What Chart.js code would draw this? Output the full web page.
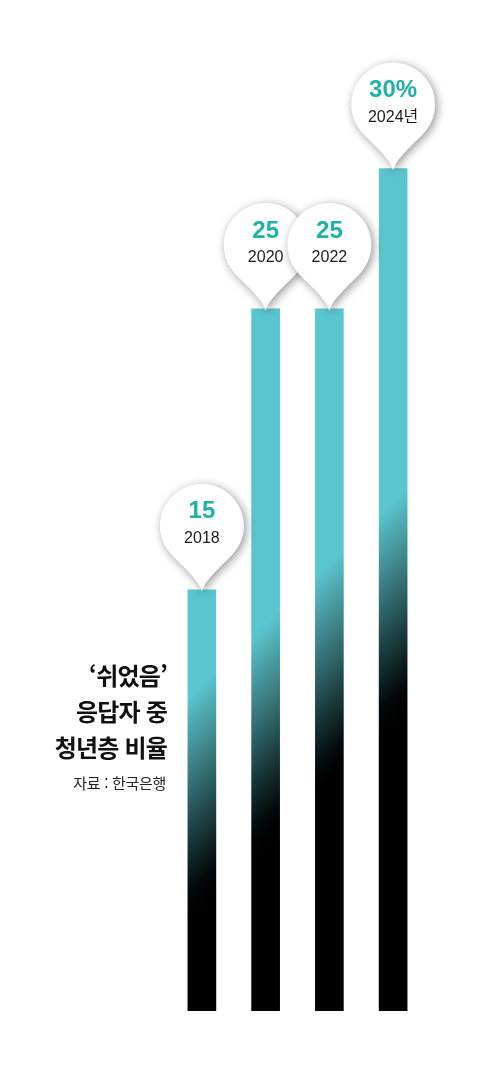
<!DOCTYPE html>
<html lang="ko">
<head>
<meta charset="utf-8">
<script src="https://cdn.jsdelivr.net/npm/chart.js@4"></script>
<style>
  html, body { margin: 0; padding: 0; background: #fff; }
  #wrap { position: relative; width: 500px; height: 1069px; overflow: hidden; }
  #c { position: absolute; left: 0; top: 0; }
  .title { position: absolute; right: 333px; top: 657px; text-align: right;
           font-family: "Noto Sans CJK KR", sans-serif; font-weight: 700; font-size: 24px;
           line-height: 36px; letter-spacing: -0.8px; color: #111; white-space: nowrap; }
  .src { position: absolute; right: 334px; top: 773px; text-align: right;
         font-family: "Noto Sans CJK KR", sans-serif; font-weight: 400; font-size: 15px;
         line-height: 20px; letter-spacing: -0.3px; color: #222; white-space: nowrap; }
</style>
</head>
<body>
<div id="wrap">
  <canvas id="c" width="500" height="1069"></canvas>
  <div class="title">‘쉬었음’<br>응답자 중<br>청년층 비율</div>
  <div class="src">자료 : 한국은행</div>
</div>
<script>
// ---- data ----
const years = ['2018', '2020', '2022', '2024'];
const yearLabels = ['2018', '2020', '2022', '2024년'];
const values = [15, 25, 25, 30];
const valueLabels = ['15', '25', '25', '30%'];

const TEAL = '#5bc5cf';

function barGradient(context) {
  const chart = context.chart;
  const area = chart.chartArea;
  if (!area) return TEAL;
  const g = chart.ctx.createLinearGradient(438, 460, 548, 575);
  g.addColorStop(0, TEAL);
  g.addColorStop(0.08, '#53b3bb');
  g.addColorStop(0.35, '#3a7a7f');
  g.addColorStop(0.65, '#18383a');
  g.addColorStop(0.88, '#030808');
  g.addColorStop(1, '#000000');
  return g;
}

const pinPlugin = {
  id: 'pins',
  afterDatasetsDraw(chart) {
    const ctx = chart.ctx;
    const meta = chart.getDatasetMeta(0);
    meta.data.forEach((bar, i) => {
      const cx = bar.x;
      const tipY = bar.y + 2;
      const r = 42;
      const cy = tipY - 66;
      const a = 38 * Math.PI / 180;
      const jx = r * Math.cos(a), jy = r * Math.sin(a);
      const tx = Math.sin(a) * 13, ty = Math.cos(a) * 13;
      ctx.save();
      ctx.shadowColor = 'rgba(0,0,0,0.42)';
      ctx.shadowBlur = 10;
      ctx.shadowOffsetX = 2;
      ctx.shadowOffsetY = 2;
      ctx.beginPath();
      ctx.moveTo(cx, tipY);
      ctx.bezierCurveTo(cx - 3, tipY - 13, cx - jx + tx, cy + jy + ty, cx - jx, cy + jy);
      ctx.arc(cx, cy, r, Math.PI - a, 2 * Math.PI + a, false);
      ctx.bezierCurveTo(cx + jx - tx, cy + jy + ty, cx + 3, tipY - 13, cx, tipY);
      ctx.closePath();
      ctx.fillStyle = '#ffffff';
      ctx.fill();
      ctx.restore();

      ctx.save();
      ctx.textAlign = 'center';
      ctx.textBaseline = 'middle';
      ctx.fillStyle = '#1fb2a7';
      ctx.font = 'bold 24px "Liberation Sans", Arial, sans-serif';
      ctx.fillText(valueLabels[i], cx, cy - 14);
      ctx.fillStyle = '#1a1a1a';
      ctx.font = '16px "Liberation Sans", "Noto Sans CJK KR", sans-serif';
      ctx.fillText(yearLabels[i], cx, cy + 13);
      ctx.restore();
    });
  }
};

new Chart(document.getElementById('c'), {
  type: 'bar',
  data: {
    labels: years,
    datasets: [{
      data: values,
      backgroundColor: barGradient,
      borderWidth: 0,
      barThickness: 28
    }]
  },
  options: {
    responsive: false,
    animation: false,
    events: [],
    layout: { padding: { left: 170, right: 75, top: 0, bottom: 58 } },
    scales: {
      x: { display: false, offset: true, grid: { display: false } },
      y: { display: false, min: 0, max: 36, grid: { display: false } }
    },
    plugins: { legend: { display: false }, tooltip: { enabled: false } }
  },
  plugins: [pinPlugin]
});
</script>
</body>
</html>
